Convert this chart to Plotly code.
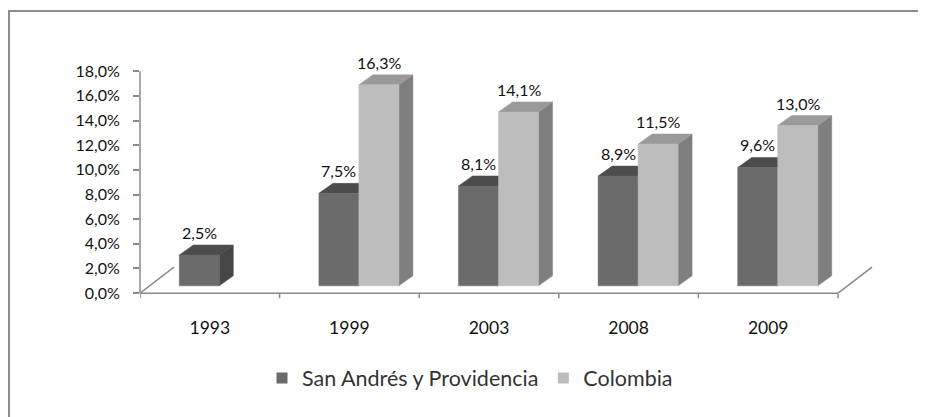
import plotly.graph_objects as go

# ── Data ─────────────────────────────────────────────────────────────────────
YEARS = ["1993", "1999", "2003", "2008", "2009"]
SAN_ANDRES = [2.5, 7.5, 8.1, 8.9, 9.6]
COLOMBIA = [None, 16.3, 14.1, 11.5, 13.0]
SERIES_NAMES = ["San Andrés y Providencia", "Colombia"]
Y_TICKS = [0, 2, 4, 6, 8, 10, 12, 14, 16, 18]

# ── Look ─────────────────────────────────────────────────────────────────────
FONT = "Lato, 'Open Sans', sans-serif"
TEXT = "#111111"
AXIS_GREY = "#8a8a8a"
FACES = {  # front, top, side
    "San Andrés y Providencia": ("#6b6b6b", "#4c4c4c", "#464646"),
    "Colombia": ("#bdbdbd", "#9a9a9a", "#7f7f7f"),
}

# the page body keeps its default 8px margin, so the figure starts at (8, 8)
OFF = 8
W, H = 926 - OFF, 417 - OFF
PLOT_LEFT, PLOT_RIGHT, PLOT_TOP, PLOT_BOTTOM = 140, 894, 66, 303   # window px
M_L, M_T = PLOT_LEFT - OFF, PLOT_TOP - OFF
M_R, M_B = 926 - PLOT_RIGHT, 417 - PLOT_BOTTOM
PLOT_W = PLOT_RIGHT - PLOT_LEFT
PLOT_H = PLOT_BOTTOM - PLOT_TOP
PX_PER_CAT = 139.6   # pixels per category
PX_PER_PCT = 12.33   # pixels per percentage point
X_RANGE = [-0.5, -0.5 + PLOT_W / PX_PER_CAT]
Y_RANGE = [-0.8, -0.8 + PLOT_H / PX_PER_PCT]


def dx(px):
    return px / PX_PER_CAT


def dy(px):
    return px / PX_PER_PCT


def paper_x(px):
    return (px - PLOT_LEFT) / PLOT_W


def paper_y(py):
    return (PLOT_BOTTOM - py) / PLOT_H


def pct(v):
    return f"{v:.1f}%".replace(".", ",")


# pseudo-3D geometry (pixels)
FLOOR_DX, FLOOR_DY = dx(34), dy(26)
SHIFT_DX, SHIFT_DY = dx(9.5), dy(7.3)
DEPTH_DX, DEPTH_DY = dx(14), dy(10)
BAR_W = dx(40)


def faces(values, left_offset):
    front, top, side = [], [], []
    for i, v in enumerate(values):
        if v is None:
            continue
        xl = i + SHIFT_DX + left_offset
        xr = xl + BAR_W
        b, t = SHIFT_DY, SHIFT_DY + v
        front.append([(xl, b), (xr, b), (xr, t), (xl, t)])
        top.append([(xl, t), (xr, t), (xr + DEPTH_DX, t + DEPTH_DY), (xl + DEPTH_DX, t + DEPTH_DY)])
        side.append([(xr, b), (xr + DEPTH_DX, b + DEPTH_DY), (xr + DEPTH_DX, t + DEPTH_DY), (xr, t)])
    return front, top, side


def poly_trace(polys, color):
    xs, ys = [], []
    for p in polys:
        xs += [pt[0] for pt in p] + [p[0][0], None]
        ys += [pt[1] for pt in p] + [p[0][1], None]
    return go.Scatter(
        x=xs, y=ys, mode="lines", fill="toself", fillcolor=color,
        line=dict(color=color, width=0.5), hoverinfo="skip", showlegend=False,
    )


fig = go.Figure()
annotations = []

for name, values, offset in [
    (SERIES_NAMES[0], SAN_ANDRES, -BAR_W),
    (SERIES_NAMES[1], COLOMBIA, 0.0),
]:
    c_front, c_top, c_side = FACES[name]
    front, top, side = faces(values, offset)
    fig.add_trace(poly_trace(side, c_side))
    fig.add_trace(poly_trace(top, c_top))
    fig.add_trace(poly_trace(front, c_front))
    for i, v in enumerate(values):
        if v is None:
            continue
        xl = i + SHIFT_DX + offset
        annotations.append(dict(
            x=xl + BAR_W / 2, y=SHIFT_DY + v + DEPTH_DY,
            xref="x", yref="y", yanchor="bottom", yshift=1,
            text=pct(v), showarrow=False,
            font=dict(size=16, color=TEXT, family=FONT),
        ))

# legend entries
for name in SERIES_NAMES:
    fig.add_trace(go.Scatter(
        x=[None], y=[None], mode="markers", name=name,
        marker=dict(symbol="square", size=11, color=FACES[name][0]),
    ))

# floor, category ticks and vertical axis line
n = len(YEARS)
line = dict(color=AXIS_GREY, width=1.5)
shapes = [
    dict(type="line", xref="x", yref="y", x0=-0.5, y0=0, x1=n - 0.5, y1=0, line=line),
    dict(type="line", xref="x", yref="y", x0=-0.5, y0=0,
         x1=-0.5 + FLOOR_DX, y1=FLOOR_DY, line=line),
    dict(type="line", xref="x", yref="y", x0=n - 0.5, y0=0,
         x1=n - 0.5 + FLOOR_DX, y1=FLOOR_DY, line=line),
    dict(type="line", xref="paper", yref="y", x0=0, x1=0, y0=0, y1=max(Y_TICKS), line=line),
]
for k in range(n + 1):
    shapes.append(dict(type="line", xref="x", yref="y", x0=k - 0.5, x1=k - 0.5,
                       y0=0, y1=-dy(5), line=line))
# chart frame (cropped on the right and bottom in the original)
shapes.append(dict(type="rect", xref="paper", yref="paper",
                   x0=paper_x(9), y0=paper_y(440), x1=paper_x(950), y1=paper_y(11),
                   line=dict(color="#8c8c8c", width=2), fillcolor="rgba(0,0,0,0)"))

fig.update_layout(
    width=W, height=H,
    margin=dict(l=M_L, r=M_R, t=M_T, b=M_B),
    paper_bgcolor="white", plot_bgcolor="white",
    font=dict(family=FONT, color=TEXT),
    xaxis=dict(
        range=X_RANGE, tickmode="array", tickvals=list(range(n)), ticktext=YEARS,
        ticks="outside", ticklen=9, tickcolor="rgba(0,0,0,0)",
        showline=False, showgrid=False, zeroline=False,
        tickfont=dict(size=17.5, color=TEXT),
    ),
    yaxis=dict(
        range=Y_RANGE, tickmode="array", tickvals=Y_TICKS,
        ticktext=[pct(t) for t in Y_TICKS],
        ticks="outside", ticklen=6, tickwidth=1.5, tickcolor=AXIS_GREY,
        ticklabelstandoff=10,
        showline=False, showgrid=False, zeroline=False,
        tickfont=dict(size=16, color=TEXT),
    ),
    showlegend=True,
    legend=dict(
        orientation="h", x=paper_x(470), xanchor="center",
        y=paper_y(378), yanchor="middle",
        font=dict(size=21.5, color="#333333"), itemwidth=30,
    ),
    shapes=shapes,
    annotations=annotations,
)

fig.write_html("out.html")
